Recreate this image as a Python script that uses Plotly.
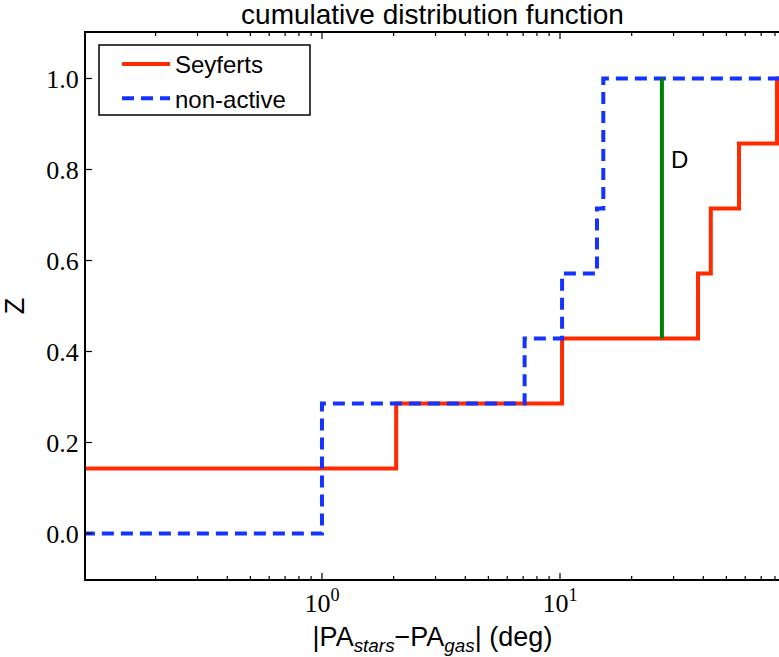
import numpy as np
import plotly.graph_objects as go

# Data (deg)
seyferts = [0.05, 2.05, 10.2, 38.0, 43.0, 56.5, 81.6]
nonactive = [1.0, 1.0, 7.1, 10.2, 14.3, 15.2, 15.2]
d_x = 26.8
x_tickvals = [1, 10]
x_ticktext = ["10<sup>0</sup>", "10<sup>1</sup>"]
y_tickvals = [0.0, 0.2, 0.4, 0.6, 0.8, 1.0]
y_ticktext = ["0.0", "0.2", "0.4", "0.6", "0.8", "1.0"]
minor_vals = [m * 10.0 ** e for e in (-1, 0, 1) for m in range(2, 10)]


def ecdf(vals):
    v = np.sort(np.asarray(vals, dtype=float))
    n = len(v)
    x = np.concatenate([[0.001], v, [1000.0]])
    y = np.concatenate([[0.0], np.arange(1, n + 1) / n, [1.0]])
    return x, y


def ecdf_at(vals, x0):
    v = np.asarray(vals, dtype=float)
    return float(np.sum(v <= x0)) / len(v)


sx, sy = ecdf(seyferts)
nx, ny = ecdf(nonactive)

W, H = 779, 657
L, R, T, B = 86, 0, 33, 78
pw, ph = W - L - R, H - T - B
xr = [np.log10(0.102), 1.92]
MAJ, MIN = 6, 3


def px_x(p):
    return (p - L) / pw


def px_y(p):
    return (H - B - p) / ph


def segs(vals, a, b):
    p, q = [], []
    for v in vals:
        p += [v, v, None]
        q += [a, b, None]
    return p, q


fig = go.Figure()
fig.add_trace(go.Scatter(x=sx, y=sy, mode="lines", line_shape="hv",
                         line=dict(color="#ff2a00", width=4), name="Seyferts"))
fig.add_trace(go.Scatter(x=nx, y=ny, mode="lines", line_shape="hv",
                         line=dict(color="#1433ff", width=4, dash="12px,7px"),
                         name="non-active"))
fig.add_trace(go.Scatter(x=[d_x, d_x],
                         y=[ecdf_at(seyferts, d_x), ecdf_at(nonactive, d_x)],
                         mode="lines", line=dict(color="#008000", width=4),
                         showlegend=False))

# tick marks (inside), drawn on pixel-scaled helper axes
tick_style = dict(mode="lines", line=dict(color="black", width=1.2),
                  showlegend=False, hoverinfo="skip")
for vals, ln in ((x_tickvals, MAJ), (minor_vals, MIN)):
    for a, b in ((0, ln), (ph - ln, ph)):
        xx, yy = segs(vals, a, b)
        fig.add_trace(go.Scatter(x=xx, y=yy, xaxis="x", yaxis="y2", **tick_style))
yy, xx = segs(y_tickvals, 0, MAJ)
fig.add_trace(go.Scatter(x=xx, y=yy, xaxis="x2", yaxis="y", **tick_style))

fig.add_annotation(x=np.log10(31.9), y=0.823, text="D", showarrow=False,
                   font=dict(family="Liberation Sans", size=24, color="black"))

# legend frame
fig.add_shape(type="rect", xref="paper", yref="paper",
              x0=px_x(99), x1=px_x(310), y0=px_y(115), y1=px_y(45),
              line=dict(color="black", width=1.5), fillcolor="white", layer="above")

fig.update_layout(
    width=W, height=H,
    margin=dict(l=L, r=R, t=T, b=B),
    plot_bgcolor="white", paper_bgcolor="white",
    title=dict(text="cumulative distribution function", x=0.5, xref="paper",
               y=1 - 14 / H, yref="container", yanchor="middle", xanchor="center",
               font=dict(family="Liberation Sans", size=28, color="black")),
    legend=dict(x=px_x(117), y=px_y(42), xanchor="left", yanchor="top",
                borderwidth=0, bgcolor="rgba(0,0,0,0)",
                font=dict(family="Liberation Sans", size=24, color="black"),
                tracegroupgap=0, itemwidth=48),
    xaxis=dict(type="log", range=xr, tickmode="array",
               tickvals=x_tickvals, ticktext=x_ticktext, ticks="",
               showline=True, linecolor="black", linewidth=2, mirror=True,
               showgrid=False, zeroline=False,
               tickfont=dict(family="Liberation Serif", size=26, color="black"),
               title=dict(text="|PA<sub><i>stars</i></sub>\u2212PA<sub><i>gas</i></sub>| (deg)",
                          font=dict(family="Liberation Sans", size=27, color="black"),
                          standoff=10)),
    xaxis2=dict(range=[0, pw], overlaying="x", anchor="y", visible=False,
                showgrid=False, zeroline=False),
    yaxis=dict(range=[-0.1, 1.1], tickmode="array", tickvals=y_tickvals, ticktext=y_ticktext,
               ticks="", showline=True, linecolor="black", linewidth=2, mirror=False,
               showgrid=False, zeroline=False,
               tickfont=dict(family="Liberation Serif", size=26, color="black"),
               title=dict(text="Z", font=dict(family="Liberation Sans", size=27, color="black"),
                          standoff=16)),
    yaxis2=dict(range=[0, ph], overlaying="y", anchor="x", visible=False,
                showgrid=False, zeroline=False),
)

fig.write_html("out.html")
